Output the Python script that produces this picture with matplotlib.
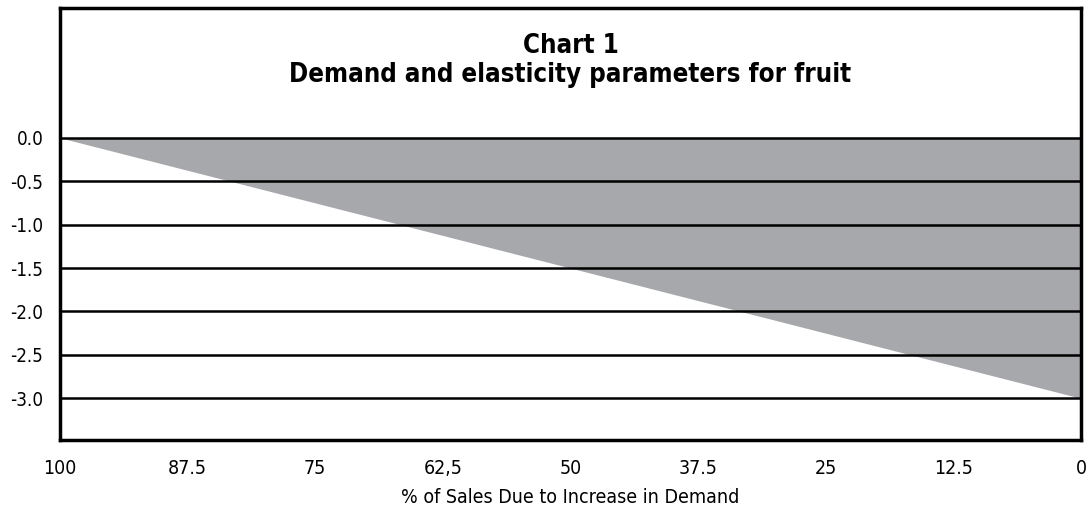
import matplotlib
matplotlib.use("Agg")
import matplotlib.pyplot as plt

plt.rcParams["font.family"] = ["DejaVu Sans"]
plt.rcParams["font.stretch"] = "condensed"

# === Data ===
share_pct = [100, 0]          # % of sales due to increase in demand
elasticity = [0.0, -3.0]      # demand elasticity parameter
x_ticks = [100, 87.5, 75, 62.5, 50, 37.5, 25, 12.5, 0]
x_tick_labels = ["100", "87.5", "75", "62,5", "50", "37.5", "25", "12.5", "0"]
y_ticks = [0.0, -0.5, -1.0, -1.5, -2.0, -2.5, -3.0]
y_tick_labels = ["0.0", "-0.5", "-1.0", "-1.5", "-2.0", "-2.5", "-3.0"]

fig = plt.figure(figsize=(10.89, 5.14), dpi=100)
ax = fig.add_axes([60 / 1089, 74 / 514, 1021 / 1089, 432.5 / 514])

ax.fill_between(share_pct, elasticity, 0, color="#a7a8ac", lw=0, zorder=1)
for y in y_ticks:
    ax.axhline(y, color="black", lw=1.8, zorder=2)

ax.set_xlim(100, 0)
ax.set_ylim(-3.48, 1.5)

ax.set_xticks(x_ticks)
ax.set_xticklabels(x_tick_labels, fontsize=14)
ax.set_yticks(y_ticks)
ax.set_yticklabels(y_tick_labels, fontsize=13.5)
ax.tick_params(length=0, pad=14)
ax.tick_params(axis="y", pad=12)
ax.set_xlabel("% of Sales Due to Increase in Demand", fontsize=14, labelpad=7)

for s in ax.spines.values():
    s.set_linewidth(2.5)
    s.set_zorder(3)

ax.text(0.5, 0.912, "Chart 1", transform=ax.transAxes, ha="center", va="center",
        fontsize=18.5, fontweight="bold")
ax.text(0.5, 0.845, "Demand and elasticity parameters for fruit", transform=ax.transAxes,
        ha="center", va="center", fontsize=18.5, fontweight="bold")

fig.savefig("out.png", dpi=100)
